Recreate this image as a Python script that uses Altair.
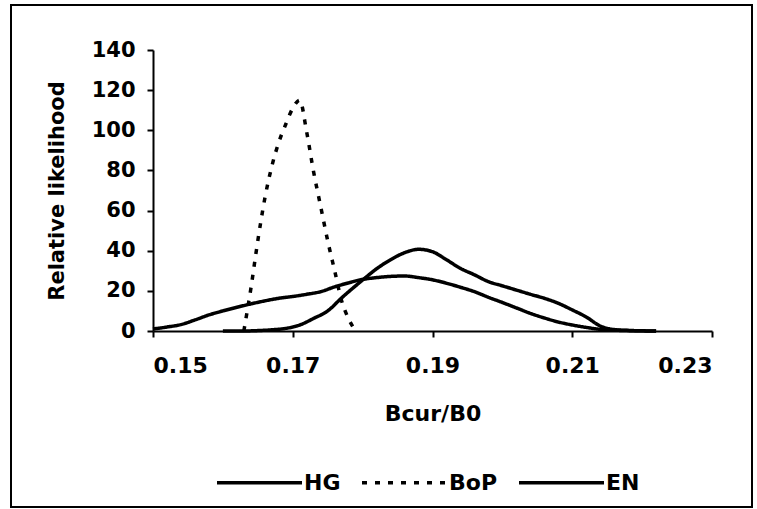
import altair as alt
import pandas as pd

# ---- data ----
hg_x = [0.150, 0.152, 0.154, 0.156, 0.158, 0.160, 0.162, 0.164, 0.166, 0.168, 0.170,
        0.172, 0.174, 0.176, 0.178, 0.180, 0.182, 0.184, 0.186, 0.188, 0.190, 0.192,
        0.194, 0.196, 0.198, 0.200, 0.202, 0.204, 0.206, 0.208, 0.210, 0.212, 0.214,
        0.216, 0.218, 0.222]
hg_y = [1.0, 2.0, 3.2, 5.5, 8.0, 10.0, 11.8, 13.5, 15.0, 16.3, 17.2,
        18.3, 19.6, 22.0, 24.0, 25.7, 26.6, 27.2, 27.4, 26.6, 25.5, 23.8,
        21.8, 19.6, 16.8, 14.2, 11.5, 8.8, 6.5, 4.5, 3.0, 1.8, 0.8,
        0.4, 0.2, 0.0]

bop_x = [0.163, 0.164, 0.165, 0.166, 0.167, 0.168, 0.169, 0.170, 0.171, 0.172,
         0.173, 0.174, 0.175, 0.176, 0.177, 0.178, 0.179]
bop_y = [0.0, 21.0, 45.0, 66.0, 82.0, 94.0, 103.0, 111.0, 115.0, 99.0,
         79.0, 62.0, 45.0, 30.0, 15.0, 6.0, 0.0]

en_x = [0.160, 0.163, 0.165, 0.167, 0.169, 0.171, 0.173, 0.175, 0.177, 0.180,
        0.182, 0.184, 0.186, 0.188, 0.190, 0.192, 0.194, 0.196, 0.198, 0.200,
        0.202, 0.204, 0.206, 0.208, 0.210, 0.212, 0.214, 0.216, 0.218, 0.222]
en_y = [0.0, 0.0, 0.2, 0.6, 1.3, 3.0, 6.3, 10.0, 16.5, 25.4,
        31.0, 35.5, 39.0, 40.7, 39.5, 35.5, 31.2, 28.0, 24.6, 22.5,
        20.4, 18.3, 16.3, 13.8, 10.5, 7.0, 2.5, 0.7, 0.3, 0.0]

series = ["HG", "BoP", "EN"]
x_ticks = [0.15, 0.17, 0.19, 0.21, 0.23]
y_ticks = [0, 20, 40, 60, 80, 100, 120, 140]

rows = []
for name, xs, ys in [("HG", hg_x, hg_y), ("BoP", bop_x, bop_y), ("EN", en_x, en_y)]:
    for i, (a, b) in enumerate(zip(xs, ys)):
        rows.append({"series": name, "x": a, "y": b, "order": i})
df = pd.DataFrame(rows)

FONT = "DejaVu Sans"

lines = alt.Chart(df).mark_line(color="black", interpolate="monotone").encode(
    x=alt.X("x:Q", title="Bcur/B0",
            scale=alt.Scale(domain=[0.15, 0.23], nice=False, zero=False),
            axis=alt.Axis(values=x_ticks, format=".2f", labelPadding=18,
                          labelFontSize=22,
                          titleY=82, titleBaseline="middle", titleFontSize=22)),
    y=alt.Y("y:Q", title="Relative likelihood",
            scale=alt.Scale(domain=[0, 140], nice=False),
            axis=alt.Axis(values=y_ticks, labelPadding=12, labelFontSize=21,
                          titleX=-96, titleAngle=270, titleBaseline="middle",
                          titleFontSize=21)),
    strokeDash=alt.StrokeDash("series:N",
                              scale=alt.Scale(domain=series,
                                              range=[[1, 0], [5, 8], [1, 0]]),
                              legend=alt.Legend(title=None)),
    strokeWidth=alt.StrokeWidth("series:N",
                                scale=alt.Scale(domain=series, range=[3.5, 3.5, 5]),
                                legend=None),
    detail="series:N",
    order="order:Q",
)

border = alt.Chart(alt.Data(values=[{}])).mark_rect(
    filled=False, stroke="black", strokeWidth=2, clip=False
).encode(
    x=alt.value(-142), x2=alt.value(599), y=alt.value(-45), y2=alt.value(457)
)

chart = alt.layer(lines, border).properties(
    width=559, height=281,
    autosize=alt.AutoSizeParams(type="none"),
    padding={"left": 153, "top": 50, "right": 45, "bottom": 178},
    background="white",
).configure_view(stroke=None).configure_axis(
    grid=False,
    domainColor="black", domainWidth=2,
    tickColor="black", tickWidth=2, tickSize=6,
    labelFont=FONT, labelFontWeight="bold", labelColor="black",
    titleFont=FONT, titleFontWeight="bold", titleColor="black",
).configure_legend(
    orient="none", legendX=62, legendY=388, direction="horizontal",
    symbolType="stroke", symbolSize=7225, symbolStrokeWidth=2.5,
    symbolStrokeColor="black",
    labelFont=FONT, labelFontWeight="bold", labelFontSize=22, labelColor="black",
    labelOffset=0, columnPadding=14,
)

chart.save("out.html", embed_options={"renderer": "svg", "actions": False})
